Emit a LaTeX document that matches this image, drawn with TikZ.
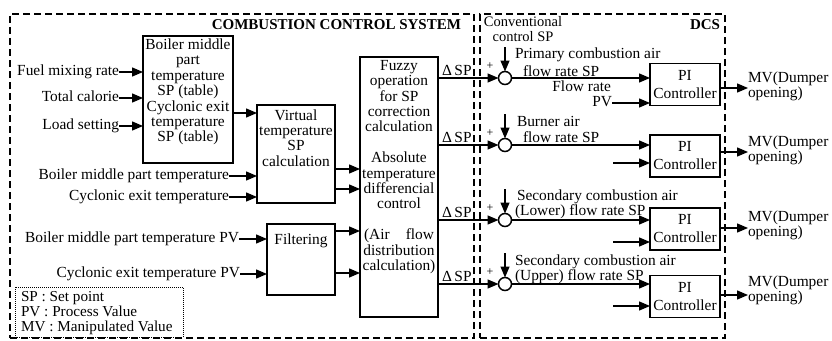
\documentclass[tikz,border=0pt]{standalone}
\usepackage{fontspec}
\setmainfont{Liberation Serif}
\usetikzlibrary{arrows.meta}
\begin{document}
\begin{tikzpicture}[x=1pt,y=-1pt,
  font=\fontsize{15.4}{15.4}\selectfont,
  every node/.style={inner sep=0pt, outer sep=0pt},
  conn/.style={line width=1.3pt, -{Triangle[length=11pt,width=9pt]}},
  blk/.style={draw, line width=1.5pt, rectangle},
  zone/.style={draw, line width=2.2pt, dash pattern=on 7pt off 4pt, rectangle},
  txt/.style={align=center},
  lbl/.style={anchor=east, text height=10.5pt, text depth=3.5pt},
  lblw/.style={anchor=west},
  sumc/.style={draw, circle, line width=1.5pt, minimum size=13pt, fill=white},
  pib/.style={blk, minimum width=70pt, minimum height=42pt, align=center, font=\fontsize{15.4}{18}\selectfont},
  plus/.style={font=\fontsize{12}{12}\selectfont},
  mv/.style={anchor=west, align=left, font=\fontsize{15.4}{15}\selectfont},
]
\useasboundingbox (0,0) rectangle (832,340);
\fill[white] (0,0) rectangle (832,340);

% zones
\node[zone, minimum width=464pt, minimum height=324pt] (ccs) at (242,176) {};
\node[zone, minimum width=245pt, minimum height=324pt] (dcs) at (602.5,176) {};
\node[anchor=east, font=\bfseries\fontsize{15}{15}\selectfont] (title) at (461,25) {COMBUSTION CONTROL SYSTEM};
\node[anchor=east, font=\bfseries\fontsize{15}{15}\selectfont] (dcstitle) at (720,25) {DCS};
\node[txt, font=\fontsize{14.5}{14.5}\selectfont] (conv) at (523,29) {Conventional\\control SP};

% blocks
\node[blk, minimum width=90pt, minimum height=127pt] (boiler) at (188,99.5) {};
\node[txt] (boilertxt) at (188,92) {Boiler middle\\part\\temperature\\SP (table)\\Cyclonic exit\\temperature\\SP (table)};
\node[blk, minimum width=78pt, minimum height=98pt] (virt) at (296,154) {};
\node[txt] (virttxt) at (296,138) {Virtual\\temperature\\SP\\calculation};
\node[blk, minimum width=68pt, minimum height=71pt] (filt) at (301,259.5) {};
\node (filttxt) at (301,241) {Filtering};
\node[blk, minimum width=78pt, minimum height=260pt] (fuzzy) at (399,187) {};
\node[txt] (fuzzytxt) at (399,167) {Fuzzy\\operation\\for SP\\correction\\calculation\\[15.4pt]Absolute\\temperature\\differencial\\control\\[15.4pt]\makebox[70pt][s]{(Air flow}\\distribution\\calculation)};

% legend
\node[draw, line width=1pt, dash pattern=on 1pt off 1pt, minimum width=168pt, minimum height=50pt] (legend) at (99,312) {};
\node[anchor=west, align=left, font=\fontsize{15.2}{15}\selectfont] (legtxt) at (21,313) {SP : Set point\\PV : Process Value\\MV : Manipulated Value};

% inputs to boiler table
\node[lbl] (fuel) at (119,72) {Fuel mixing rate};
\node[lbl] (cal) at (119,98) {Total calorie};
\node[lbl] (load) at (119,126) {Load setting};
\draw[conn] (fuel.east) -- (fuel.east -| boiler.west);
\draw[conn] (cal.east) -- (cal.east -| boiler.west);
\draw[conn] (load.east) -- (load.east -| boiler.west);
\draw[conn] (boiler.east |- 0,113) -- (virt.west |- 0,113);

% inputs to virtual
\node[lbl] (bmt) at (229,176) {Boiler middle part temperature};
\node[lbl] (cet) at (229,197) {Cyclonic exit temperature};
\draw[conn] (bmt.east) -- (bmt.east -| virt.west);
\draw[conn] (cet.east) -- (cet.east -| virt.west);
\draw[conn] (virt.east |- 0,169) -- (fuzzy.west |- 0,169);
\draw[conn] (virt.east |- 0,189) -- (fuzzy.west |- 0,189);

% inputs to filtering
\node[lbl] (bmpv) at (239,239) {Boiler middle part temperature PV};
\node[lbl] (cepv) at (240,274) {Cyclonic exit temperature PV};
\draw[conn] (bmpv.east) -- (bmpv.east -| filt.west);
\draw[conn] (cepv.east) -- (cepv.east -| filt.west);
\draw[conn] (filt.east |- 0,231) -- (fuzzy.west |- 0,231);
\draw[conn] (filt.east |- 0,273) -- (fuzzy.west |- 0,273);

% summing junctions
\node[sumc] (c1) at (505,78) {};
\node[sumc] (c2) at (505,145) {};
\node[sumc] (c3) at (505,220) {};
\node[sumc] (c4) at (505,284) {};
\coordinate (t1) at (505,47);
\coordinate (t2) at (505,114);
\coordinate (t3) at (505,189);
\coordinate (t4) at (505,253);
\draw[conn] (t1) -- (c1.north);
\draw[conn] (t2) -- (c2.north);
\draw[conn] (t3) -- (c3.north);
\draw[conn] (t4) -- (c4.north);
\node[plus] (p1) at (490,66) {+};
\node[plus] (p2) at (490,133) {+};
\node[plus] (p3) at (490,208) {+};
\node[plus] (p4) at (490,272) {+};

% delta SP
\node[anchor=south west] (d1) at (442,76) {Δ\,SP};
\node[anchor=south west] (d2) at (442,143) {Δ\,SP};
\node[anchor=south west] (d3) at (442,218) {Δ\,SP};
\node[anchor=south west] (d4) at (442,282) {Δ\,SP};
\draw[conn] (fuzzy.east |- c1.west) -- (c1.west);
\draw[conn] (fuzzy.east |- c2.west) -- (c2.west);
\draw[conn] (fuzzy.east |- c3.west) -- (c3.west);
\draw[conn] (fuzzy.east |- c4.west) -- (c4.west);

% PI controllers
\node[pib] (pi1) at (685,84.5) {PI\\Controller};
\node[pib] (pi2) at (685,156) {PI\\Controller};
\node[pib] (pi3) at (685,229) {PI\\Controller};
\node[pib] (pi4) at (685,296.5) {PI\\Controller};
\draw[conn] (c1.east) -- (c1.east -| pi1.west);
\draw[conn] (c2.east) -- (c2.east -| pi2.west);
\draw[conn] (c3.east) -- (c3.east -| pi3.west);
\draw[conn] (c4.east) -- (c4.east -| pi4.west);

% SP labels
\node[lblw] (l1a) at (515,55) {Primary combustion air};
\node[lblw] (l1b) at (523,71) {flow rate SP};
\node[lblw] (l2a) at (517,121) {Burner air};
\node[lblw] (l2b) at (523,137) {flow rate SP};
\node[lblw] (l3a) at (517,197) {Secondary combustion air};
\node[lblw] (l3b) at (515,212) {(Lower) flow rate SP};
\node[lblw] (l4a) at (515,262) {Secondary combustion air};
\node[lblw] (l4b) at (515,277) {(Upper) flow rate SP};

% PV inputs
\node[lbl] (flowrate) at (611,88) {Flow rate};
\node[lbl] (pv) at (612,103) {PV};
\draw[conn] (pv.east) -- (pv.east -| pi1.west);
\coordinate (i2) at (613,163);
\coordinate (i3) at (613,242);
\coordinate (i4) at (613,306);
\draw[conn] (i2) -- (i2 -| pi2.west);
\draw[conn] (i3) -- (i3 -| pi3.west);
\draw[conn] (i4) -- (i4 -| pi4.west);

% outputs
\node[mv] (mv1) at (748,86) {MV(Dumper\\opening)};
\node[mv] (mv2) at (748,150) {MV(Dumper\\opening)};
\node[mv] (mv3) at (748,225) {MV(Dumper\\opening)};
\node[mv] (mv4) at (748,290) {MV(Dumper\\opening)};
\draw[conn] (pi1.east |- 0,88) -- (mv1.west |- 0,88);
\draw[conn] (pi2.east |- 0,152) -- (mv2.west |- 0,152);
\draw[conn] (pi3.east |- 0,228) -- (mv3.west |- 0,228);
\draw[conn] (pi4.east |- 0,295) -- (mv4.west |- 0,295);
\end{tikzpicture}
\end{document}
